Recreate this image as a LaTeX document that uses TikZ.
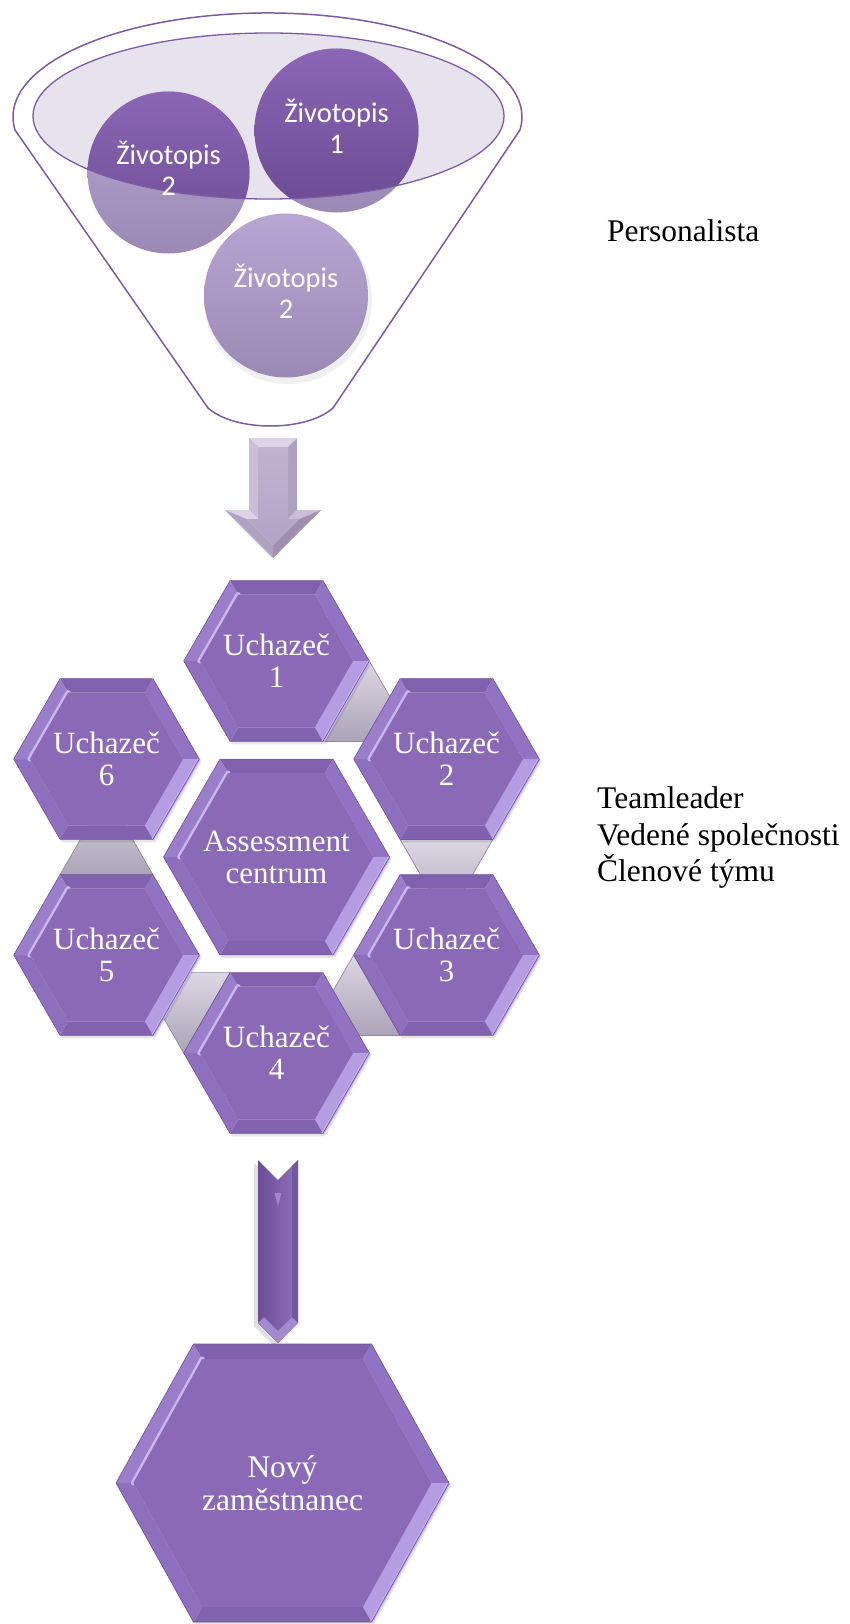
\documentclass[tikz,border=0pt]{standalone}
\usepackage{fontspec}
\setmainfont{Liberation Serif}
\newfontfamily\carlito{Carlito}
\usetikzlibrary{calc}
\definecolor{funnelline}{HTML}{7A5CA3}
\definecolor{ellfill}{HTML}{E7E3ED}
\definecolor{cvlighttop}{HTML}{B7A6D3}
\definecolor{cvlightbot}{HTML}{9B89B5}
\definecolor{cvdarktop}{HTML}{8B66B5}
\definecolor{cvdarkbot}{HTML}{6A4B93}
\definecolor{hexface}{HTML}{8A6AB6}
\definecolor{hextop}{HTML}{7F61AE}
\definecolor{hexur}{HTML}{9273C3}
\definecolor{hexlr}{HTML}{B59DE4}
\definecolor{hexbot}{HTML}{8062AF}
\definecolor{hexll}{HTML}{8D6FBD}
\definecolor{hexul}{HTML}{9A7ECA}
\definecolor{hexhi}{HTML}{CBB6F2}
\definecolor{hexedge}{HTML}{6F539B}
\definecolor{tritop}{HTML}{DCD7E4}
\definecolor{tribot}{HTML}{ABA3B7}
\definecolor{tririm}{HTML}{8F8A9A}
\definecolor{arrA}{HTML}{DCD3E6}
\definecolor{arrB}{HTML}{C9BDD8}
\definecolor{arrC}{HTML}{AFA1C2}
\definecolor{arrD}{HTML}{9F90B2}
\definecolor{arrE}{HTML}{C0B3D1}
\definecolor{arrF}{HTML}{B1A3C5}
\definecolor{darrL}{HTML}{6B4E95}
\definecolor{darrR}{HTML}{8E71BC}
\definecolor{darrS}{HTML}{7256A0}
\definecolor{darrH}{HTML}{A389D0}

% beveled hexagon: cx, cy, half width W, half height H, half top edge T, bevel b
\newcommand\bevhex[6]{%
  \pgfmathsetmacro\hxWi{#3-1.155*#6}%
  \pgfmathsetmacro\hxHi{#4-#6}%
  \pgfmathsetmacro\hxTi{#5-0.577*#6}%
  \coordinate (O0) at ({#1+#3},{#2});
  \coordinate (O1) at ({#1+#5},{#2+#4});
  \coordinate (O2) at ({#1-#5},{#2+#4});
  \coordinate (O3) at ({#1-#3},{#2});
  \coordinate (O4) at ({#1-#5},{#2-#4});
  \coordinate (O5) at ({#1+#5},{#2-#4});
  \coordinate (I0) at ({#1+\hxWi},{#2});
  \coordinate (I1) at ({#1+\hxTi},{#2+\hxHi});
  \coordinate (I2) at ({#1-\hxTi},{#2+\hxHi});
  \coordinate (I3) at ({#1-\hxWi},{#2});
  \coordinate (I4) at ({#1-\hxTi},{#2-\hxHi});
  \coordinate (I5) at ({#1+\hxTi},{#2-\hxHi});
  \fill[black,opacity=0.10] ($(O0)+(2,3)$)--($(O1)+(2,3)$)--($(O2)+(2,3)$)--($(O3)+(2,3)$)--($(O4)+(2,3)$)--($(O5)+(2,3)$)--cycle;
  \fill[hextop] (O4)--(O5)--(I5)--(I4)--cycle;
  \fill[hexur] (O5)--(O0)--(I0)--(I5)--cycle;
  \fill[hexlr] (O0)--(O1)--(I1)--(I0)--cycle;
  \fill[hexbot] (O1)--(O2)--(I2)--(I1)--cycle;
  \fill[hexll] (O2)--(O3)--(I3)--(I2)--cycle;
  \fill[hexul] (O3)--(O4)--(I4)--(I3)--cycle;
  \draw[hexhi,line width=5pt,line cap=round] (I3)--(I4);
  \draw[hexhi!70!hexlr,line width=3pt] (O0)--(O1);
  \fill[hexface] (I0)--(I1)--(I2)--(I3)--(I4)--(I5)--cycle;
  \draw[hexedge,line width=0.6pt] (O0)--(O1)--(O2)--(O3)--(O4)--(O5)--cycle;
}
\newcommand\graytri[3]{%
  \shade[top color=tritop,bottom color=tribot] #1--#2--#3--cycle;
  \draw[tririm,line width=0.7pt] #1--#2--#3--cycle;
}

\begin{document}
\begin{tikzpicture}[x=1pt,y=-1pt,
  hexlabel/.style={text=white,font=\fontsize{31}{32}\selectfont,align=center,inner sep=0pt},
  cvlabel/.style={text=white,font=\carlito\fontsize{28.5}{31.5}\selectfont,align=center,inner sep=0pt},
  sidelabel/.style={text=black,font=\fontsize{31.5}{36.5}\selectfont,align=left,inner sep=0pt},
  funnelstroke/.style={draw=funnelline,line width=1.5pt}]
\useasboundingbox (0,0) rectangle (850,1624);
\fill[white] (0,0) rectangle (850,1624);

% ---------- funnel ----------
\path[funnelstroke] (15,130) arc[start angle=172.8,end angle=367.2,x radius=254.5,y radius=104]
   -- (333,408) .. controls (306,432) and (235,432) .. (208,408) -- cycle;
\fill[ellfill] (268.5,116) ellipse (235.5 and 83);
% soft shadows under circles
\fill[black,opacity=0.06] (288,300) ellipse (84 and 84);
% circles, light (outside ellipse)
\shade[top color=cvlighttop,bottom color=cvlightbot] (168.5,172.5) circle (81);
\shade[top color=cvlighttop,bottom color=cvlightbot] (336.5,130.5) circle (82);
\shade[top color=cvlighttop,bottom color=cvlightbot] (286,295.5) circle (82);
% circles, dark (inside ellipse)
\begin{scope}
  \clip (268.5,116) ellipse (235.5 and 83);
  \shade[top color=cvdarktop,bottom color=cvdarkbot] (168.5,172.5) circle (81);
  \shade[top color=cvdarktop,bottom color=cvdarkbot] (336.5,130.5) circle (82);
\end{scope}
\draw[funnelline,line width=1.3pt] (268.5,116) ellipse (235.5 and 83);
\node[cvlabel] (z2a) at (168.5,168.5) {Životopis\\2};
\node[cvlabel] (z1) at (336.5,126.5) {Životopis\\1};
\node[cvlabel] (z2b) at (286,291.5) {Životopis\\2};

% ---------- first arrow ----------
\coordinate (A1) at (249,438); \coordinate (A2) at (297,438);
\coordinate (A3) at (297,510); \coordinate (A4) at (321,510);
\coordinate (A5) at (273,558); \coordinate (A6) at (225,510);
\coordinate (A7) at (249,510);
\coordinate (B1) at (258,447); \coordinate (B2) at (288,447);
\coordinate (B3) at (288,519); \coordinate (B4) at (299.3,519);
\coordinate (B5) at (273,545.3); \coordinate (B6) at (246.7,519);
\coordinate (B7) at (258,519);
\fill[arrA] (A1)--(A2)--(B2)--(B1)--cycle;
\fill[arrC] (A2)--(A3)--(B3)--(B2)--cycle;
\fill[arrB] (A7)--(A1)--(B1)--(B7)--cycle;
\fill[arrA] (A6)--(A7)--(B7)--(B6)--cycle;
\fill[arrB] (A3)--(A4)--(B4)--(B3)--cycle;
\fill[arrD] (A4)--(A5)--(B5)--(B4)--cycle;
\fill[arrC] (A5)--(A6)--(B6)--(B5)--cycle;
\shade[top color=arrE,bottom color=arrF] (B1)--(B2)--(B3)--(B4)--(B5)--(B6)--(B7)--cycle;

% ---------- connecting triangles ----------
\graytri{(369.3,661)}{(322.9,741.4)}{(415.7,741.4)}
\graytri{(400.1,839.4)}{(492.9,839.4)}{(446.5,919.8)}
\graytri{(353.7,955)}{(400.1,1035.4)}{(307.3,1035.4)}
\graytri{(183.7,1053)}{(230.1,972.6)}{(137.3,972.6)}
\graytri{(60.1,874.6)}{(152.9,874.6)}{(106.5,794.2)}

% ---------- hexagons ----------
\bevhex{276.5}{661}{92.8}{80.4}{46.4}{14}
\node[hexlabel] (u1) at (276.5,661) {Uchazeč\\1};
\bevhex{446.5}{759}{92.8}{80.4}{46.4}{14}
\node[hexlabel] (u2) at (446.5,759) {Uchazeč\\2};
\bevhex{446.5}{955}{92.8}{80.4}{46.4}{14}
\node[hexlabel] (u3) at (446.5,955) {Uchazeč\\3};
\bevhex{106.5}{955}{92.8}{80.4}{46.4}{14}
\node[hexlabel] (u5) at (106.5,955) {Uchazeč\\5};
\bevhex{106.5}{759}{92.8}{80.4}{46.4}{14}
\node[hexlabel] (u6) at (106.5,759) {Uchazeč\\6};
\bevhex{276.5}{857}{113}{97.9}{56.5}{14}
\node[hexlabel] (ac) at (276.5,857) {Assessment\\centrum};
\bevhex{276.5}{1053}{92.8}{80.4}{46.4}{14}
\node[hexlabel] (u4) at (276.5,1053) {Uchazeč\\4};

% ---------- second arrow ----------
\fill[black,opacity=0.12] (254,1163)--(274,1183)--(294,1163)--(294,1326)--(274,1346)--(254,1326)--cycle;
\shade[left color=darrL,right color=darrR] (258,1160)--(278,1180)--(298,1160)--(298,1323)--(278,1343)--(258,1323)--cycle;
\fill[darrS] (292,1166)--(298,1160)--(298,1323)--(292,1320)--cycle;
\fill[darrH] (258,1323)--(278,1343)--(298,1323)--(292,1317)--(278,1331)--(264,1317)--cycle;
\fill[darrH] (274.5,1193)--(281.5,1193)--(278,1206)--cycle;

% ---------- final hexagon ----------
\bevhex{282.5}{1483}{166.5}{139}{89}{15}
\node[hexlabel,font=\fontsize{31.5}{33}\selectfont] (novy) at (282.5,1483) {Nový\\zaměstnanec};

% ---------- side labels ----------
\node[sidelabel,anchor=base west] (pers) at (607,241) {Personalista};
\node[sidelabel,anchor=north west] (team) at (597,786.8) {Teamleader\\Vedené společnosti\\Členové týmu};
\end{tikzpicture}
\end{document}
